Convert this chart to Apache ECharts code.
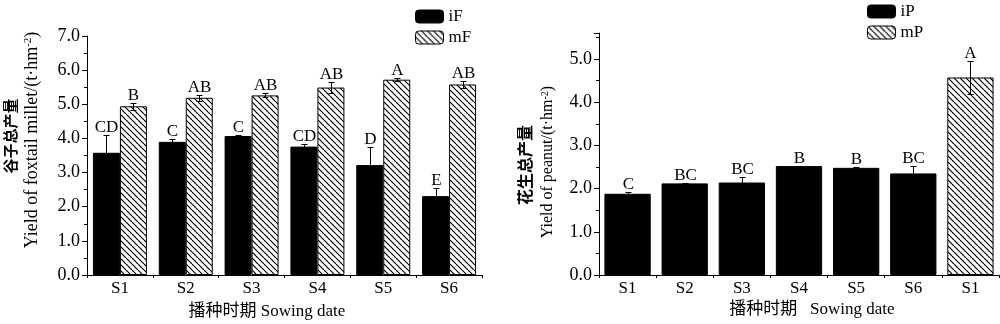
<!DOCTYPE html>
<html>
<head>
<meta charset="utf-8">
<script src="https://cdn.jsdelivr.net/npm/echarts@6/dist/echarts.min.js"></script>
<style>html,body{margin:0;padding:0;background:#fff}#c{width:1000px;height:324px}</style>
</head>
<body>
<div id="c"></div>
<script>
// ---- data ----
const leftCategories = ['S1','S2','S3','S4','S5','S6'];
const iF = [3.58, 3.90, 4.07, 3.76, 3.22, 2.31];
const iFErr = [0.53, 0.08, 0.04, 0.08, 0.52, 0.24];
const iFLetters = ['CD','C','C','CD','D','E'];
const mF = [4.94, 5.19, 5.26, 5.49, 5.72, 5.58];
const mFErr = [0.10, 0.08, 0.06, 0.16, 0.04, 0.10];
const mFLetters = ['B','AB','AB','AB','A','AB'];

const rightCategories = ['S1','S2','S3','S4','S5','S6','S1'];
const iP = [1.88, 2.12, 2.14, 2.52, 2.48, 2.35, '-'];
const iPErr = [0.03, 0.02, 0.12, 0.01, 0.03, 0.17, 0];
const iPLetters = ['C','BC','BC','B','B','BC',''];
const mP = ['-','-','-','-','-','-', 4.57];
const mPErr = [0,0,0,0,0,0, 0.39];
const mPLetters = ['','','','','','','A'];

const leftTicks = [0,1,2,3,4,5,6,7];
const rightTicks = [0,1,2,3,4,5];

// ---- styles ----
const SERIF = '"Liberation Serif","Times New Roman",serif';
const CJK = '"Noto Sans CJK SC",sans-serif';

function hatch() {
  const s = 6;
  const c = document.createElement('canvas');
  c.width = s; c.height = s;
  const ctx = c.getContext('2d');
  ctx.fillStyle = '#fff'; ctx.fillRect(0, 0, s, s);
  ctx.strokeStyle = '#000'; ctx.lineWidth = 1.2;
  [-s, 0, s].forEach(k => { ctx.beginPath(); ctx.moveTo(k, 0); ctx.lineTo(k + s, s); ctx.stroke(); });
  return { image: c, repeat: 'repeat' };
}
const hatchFill = hatch();

function errSeries(name, xAxisIndex, yAxisIndex, vals, errs, letters, offset) {
  const data = [];
  const labelsByIdx = [];
  vals.forEach((v, i) => { if (v !== '-' && v != null) { data.push([i, v, errs[i]]); labelsByIdx.push(letters[i]); } });
  return {
    type: 'custom', name: name, xAxisIndex, yAxisIndex, z: 10, silent: true,
    data: data,
    renderItem: function (params, api) {
      const x = api.value(0), v = api.value(1), e = api.value(2);
      const bw = api.size([1, 0])[0];
      const cx = Math.round(api.coord([x, v])[0] + offset * bw) + 0.5;
      const top = Math.round(api.coord([x, v + e])[1]) + 0.5;
      const bot = Math.round(api.coord([x, v - e])[1]) + 0.5;
      const cap = 3;
      const st = { stroke: '#000', lineWidth: 1 };
      return {
        type: 'group', children: [
          { type: 'line', shape: { x1: cx, y1: bot, x2: cx, y2: top }, style: st },
          { type: 'line', shape: { x1: cx - cap, y1: top, x2: cx + cap, y2: top }, style: st },
          { type: 'line', shape: { x1: cx - cap, y1: bot, x2: cx + cap, y2: bot }, style: st },
          { type: 'text', x: cx, y: top + 1, style: {
              text: labelsByIdx[params.dataIndex], align: 'center', verticalAlign: 'bottom',
              font: '17px ' + SERIF, fill: '#000' } }
        ]
      };
    }
  };
}

const axisLine = { show: true, lineStyle: { color: '#000', width: 1 } };

function yAxis(gridIndex, max, ticks) {
  return {
    type: 'value', gridIndex, min: 0, max: max, interval: 1,
    axisLine: axisLine,
    axisTick: { show: true, length: 5, lineStyle: { color: '#000' } },
    minorTick: { show: true, splitNumber: 2, length: 3, lineStyle: { color: '#000' } },
    splitLine: { show: false },
    axisLabel: {
      color: '#000', fontFamily: SERIF, fontSize: 18, margin: 7,
      formatter: v => ticks.indexOf(v) >= 0 ? v.toFixed(1) : ''
    }
  };
}
function xAxis(gridIndex, cats) {
  return {
    type: 'category', gridIndex, data: cats.map((c, i) => 'c' + i),
    axisLine: axisLine,
    axisTick: { show: true, length: 3, lineStyle: { color: '#000' } },
    axisLabel: { color: '#000', fontFamily: SERIF, fontSize: 17, margin: 5,
      formatter: (v, i) => cats[i] },
    splitLine: { show: false }
  };
}

const option = {
  backgroundColor: '#fff',
  animation: false,
  grid: [
    { left: 87, right: 518, top: 36, bottom: 49 },
    { left: 599, right: 1, top: 33, bottom: 49 }
  ],
  xAxis: [xAxis(0, leftCategories), xAxis(1, rightCategories)],
  yAxis: [yAxis(0, 7, leftTicks), yAxis(1, 5.6, rightTicks)],
  legend: [
    { data: ['iF', 'mF'], orient: 'vertical', left: 415, top: 8, itemWidth: 28, itemHeight: 13, itemGap: 4,
      padding: 0, textStyle: { fontFamily: SERIF, fontSize: 17, color: '#000' }, itemStyle: { borderWidth: 1, borderColor: '#000' } },
    { data: ['iP', 'mP'], orient: 'vertical', left: 867, top: 3, itemWidth: 28, itemHeight: 13, itemGap: 4,
      padding: 0, textStyle: { fontFamily: SERIF, fontSize: 17, color: '#000' }, itemStyle: { borderWidth: 1, borderColor: '#000' } }
  ],
  series: [
    { type: 'bar', name: 'iF', xAxisIndex: 0, yAxisIndex: 0, data: iF, barGap: '0%', barCategoryGap: '18%',
      itemStyle: { color: '#000', borderColor: '#000', borderWidth: 1 } },
    { type: 'bar', name: 'mF', xAxisIndex: 0, yAxisIndex: 0, data: mF, barGap: '0%', barCategoryGap: '18%',
      itemStyle: { color: hatchFill, borderColor: '#000', borderWidth: 1 } },
    { type: 'bar', name: 'iP', xAxisIndex: 1, yAxisIndex: 1, data: iP, stack: 'p', barCategoryGap: '19%',
      itemStyle: { color: '#000', borderColor: '#000', borderWidth: 1 } },
    { type: 'bar', name: 'mP', xAxisIndex: 1, yAxisIndex: 1, data: mP, stack: 'p', barCategoryGap: '19%',
      itemStyle: { color: hatchFill, borderColor: '#000', borderWidth: 1 } },
    errSeries('iFErr', 0, 0, iF, iFErr, iFLetters, -0.205),
    errSeries('mFErr', 0, 0, mF, mFErr, mFLetters, 0.205),
    errSeries('iPErr', 1, 1, iP, iPErr, iPLetters, 0),
    errSeries('mPErr', 1, 1, mP, mPErr, mPLetters, 0)
  ],
  graphic: [
    { type: 'text', x: 10, y: 136, rotation: Math.PI / 2,
      style: { text: '谷子总产量', font: 'bold 15px ' + CJK, fill: '#000', align: 'center', verticalAlign: 'middle' } },
    { type: 'text', x: 32, y: 140, rotation: Math.PI / 2,
      style: { text: 'Yield of foxtail millet/(t·hm{sup|-2})', font: '18px ' + SERIF, fill: '#000', align: 'center', verticalAlign: 'middle',
        rich: { sup: { fontSize: 11, fontFamily: SERIF, verticalAlign: 'top', padding: [0, 0, 7, 0] } } } },
    { type: 'text', x: 267, y: 312,
      style: { text: '播种时期 Sowing date', font: '17px ' + SERIF + ',' + CJK, fill: '#000', align: 'center', verticalAlign: 'middle' } },
    { type: 'text', x: 525, y: 165, rotation: Math.PI / 2,
      style: { text: '花生总产量', font: 'bold 16px ' + CJK, fill: '#000', align: 'center', verticalAlign: 'middle' } },
    { type: 'text', x: 548, y: 162, rotation: Math.PI / 2,
      style: { text: 'Yield of peanut/(t·hm{sup|-2})', font: '16px ' + SERIF, fill: '#000', align: 'center', verticalAlign: 'middle',
        rich: { sup: { fontSize: 10, fontFamily: SERIF, verticalAlign: 'top', padding: [0, 0, 6, 0] } } } },
    { type: 'text', x: 812, y: 310,
      style: { text: '播种时期   Sowing date', font: '17px ' + SERIF + ',' + CJK, fill: '#000', align: 'center', verticalAlign: 'middle' } }
  ]
};

const chart = echarts.init(document.getElementById('c'), null, { renderer: 'canvas' });
chart.setOption(option);
</script>
</body>
</html>
